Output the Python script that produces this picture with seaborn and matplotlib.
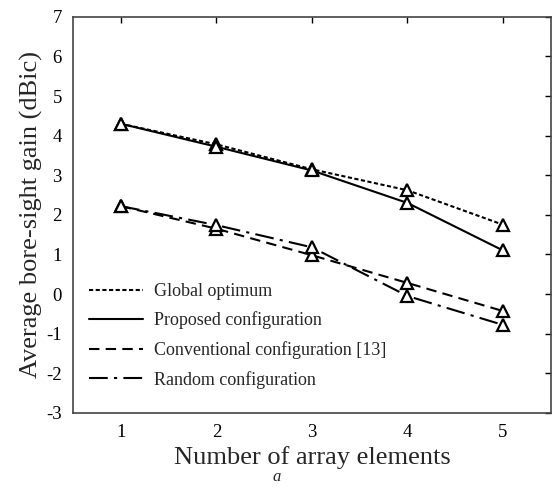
import matplotlib
matplotlib.use("Agg")
import matplotlib.pyplot as plt
import seaborn as sns
import pandas as pd

elements = [1, 2, 3, 4, 5]
global_opt = [4.3, 3.78, 3.15, 2.62, 1.75]
proposed = [4.3, 3.72, 3.12, 2.3, 1.1]
conventional = [2.22, 1.65, 0.98, 0.28, -0.43]
random_cfg = [2.22, 1.74, 1.18, -0.05, -0.78]
labels = ["Global optimum", "Proposed configuration",
          "Conventional configuration [13]", "Random configuration"]

sns.set_theme(style="white")
plt.rcParams["font.family"] = ["Liberation Serif", "DejaVu Serif"]
plt.rcParams["axes.unicode_minus"] = False

fig = plt.figure(figsize=(5.53, 4.95), dpi=100)
ax = fig.add_axes([0.132, 0.166, 0.864, 0.80])

series = [global_opt, proposed, conventional, random_cfg]
dashes = [(2.0, 1.2), None, (5, 3), (9, 3, 1.5, 3)]
for vals, lab, d in zip(series, labels, dashes):
    df = pd.DataFrame({"x": elements, "y": vals})
    kw = {}
    if d is not None:
        kw["dashes"] = d
    sns.lineplot(data=df, x="x", y="y", ax=ax, color="black", linewidth=1.5,
                 marker="^", markersize=8, markerfacecolor="white",
                 markeredgecolor="black", markeredgewidth=1.6, label=lab, **kw)

ax.set_xlim(0.5, 5.5)
ax.set_ylim(-3, 7)
ax.set_xticks(elements)
ax.set_yticks(range(-3, 8))
ax.tick_params(direction="in", length=4, width=1, top=True, right=True,
               labelsize=13.5, colors="black", pad=8)
for s in ax.spines.values():
    s.set_color("#444444")
    s.set_linewidth(1.2)
ax.set_xlabel("Number of array elements", fontsize=19, labelpad=4)
ax.set_ylabel("Average bore-sight gain (dBic)", fontsize=19, labelpad=2)

leg = ax.legend(loc="lower left", frameon=False, fontsize=13, handlelength=3.0,
                borderaxespad=0.5, labelspacing=0.65, handletextpad=0.6,
                bbox_to_anchor=(0.0, 0.02))
for h in leg.get_lines():
    h.set_marker("")

fig.text(0.5, 0.02, "a", fontsize=12, style="italic", ha="center", va="bottom")
fig.savefig("out.png", dpi=100)
